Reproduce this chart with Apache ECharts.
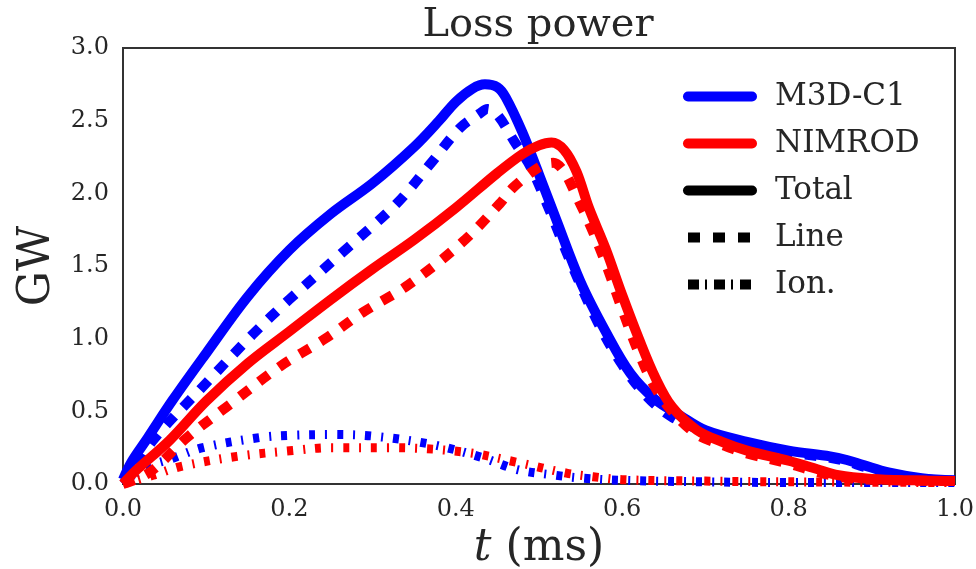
<!DOCTYPE html>
<html>
<head>
<meta charset="utf-8">
<script src="https://cdn.jsdelivr.net/npm/echarts@6/dist/echarts.min.js"></script>
<style>html,body{margin:0;padding:0;background:#fff}#c{width:976px;height:569px}</style>
</head>
<body>
<div id="c"></div>
<script>
// ---- data (t in ms, power in GW) ----
const m3dTotalT = [0, 0.01, 0.03, 0.06, 0.1, 0.15, 0.2, 0.25, 0.3, 0.35, 0.38, 0.4, 0.42, 0.435, 0.45, 0.46, 0.48, 0.5, 0.52, 0.55, 0.58, 0.61, 0.64, 0.67, 0.7, 0.75, 0.8, 0.85, 0.87, 0.89, 0.92, 0.96, 1.0];
const m3dTotalV = [0.03, 0.15, 0.32, 0.58, 0.9, 1.29, 1.61, 1.86, 2.07, 2.32, 2.5, 2.63, 2.72, 2.75, 2.73, 2.66, 2.42, 2.13, 1.83, 1.39, 1.05, 0.76, 0.58, 0.47, 0.37, 0.29, 0.23, 0.19, 0.165, 0.13, 0.08, 0.04, 0.025];

const m3dLineT = [0, 0.01, 0.036, 0.096, 0.156, 0.2, 0.265, 0.329, 0.369, 0.405, 0.429, 0.438, 0.45, 0.47, 0.49, 0.51, 0.54, 0.57, 0.6, 0.63, 0.66, 0.7, 0.75, 0.8, 0.85, 0.87, 0.89, 0.92, 0.96, 1.0];
const m3dLineV = [0.0, 0.06, 0.3, 0.67, 1.03, 1.27, 1.6, 1.93, 2.2, 2.45, 2.55, 2.58, 2.54, 2.36, 2.18, 1.92, 1.5, 1.12, 0.82, 0.6, 0.46, 0.36, 0.28, 0.22, 0.18, 0.155, 0.12, 0.075, 0.035, 0.02];

const m3dIonT = [0, 0.01, 0.029, 0.056, 0.096, 0.165, 0.2, 0.25, 0.3, 0.373, 0.433, 0.473, 0.52, 0.553, 0.6, 0.7, 0.8, 1.0];
const m3dIonV = [0.0, 0.05, 0.12, 0.17, 0.25, 0.32, 0.335, 0.34, 0.33, 0.27, 0.18, 0.1, 0.06, 0.04, 0.025, 0.015, 0.01, 0.01];

const nimTotalT = [0, 0.017, 0.056, 0.1, 0.15, 0.2, 0.25, 0.3, 0.35, 0.4, 0.45, 0.48, 0.5, 0.515, 0.53, 0.545, 0.56, 0.58, 0.6, 0.62, 0.64, 0.66, 0.69, 0.72, 0.75, 0.8, 0.83, 0.86, 0.9, 0.95, 1.0];
const nimTotalV = [0.0, 0.1, 0.3, 0.57, 0.83, 1.05, 1.27, 1.48, 1.68, 1.9, 2.14, 2.27, 2.33, 2.35, 2.3, 2.15, 1.9, 1.62, 1.3, 1.0, 0.73, 0.53, 0.37, 0.29, 0.23, 0.16, 0.11, 0.06, 0.035, 0.025, 0.02];

const nimLineT = [0, 0.032, 0.077, 0.129, 0.189, 0.243, 0.288, 0.343, 0.409, 0.453, 0.469, 0.5, 0.517, 0.53, 0.545, 0.56, 0.58, 0.6, 0.62, 0.64, 0.66, 0.69, 0.72, 0.75, 0.8, 0.83, 0.86, 0.9, 1.0];
const nimLineV = [0.0, 0.08, 0.32, 0.55, 0.81, 1.0, 1.18, 1.37, 1.67, 1.93, 2.04, 2.18, 2.21, 2.15, 1.98, 1.8, 1.52, 1.2, 0.9, 0.66, 0.5, 0.34, 0.27, 0.21, 0.14, 0.09, 0.05, 0.03, 0.02];

const nimIonT = [0, 0.036, 0.069, 0.137, 0.204, 0.25, 0.32, 0.41, 0.473, 0.533, 0.565, 0.6, 0.7, 0.8, 1.0];
const nimIonV = [0.0, 0.06, 0.12, 0.19, 0.23, 0.25, 0.25, 0.22, 0.15, 0.075, 0.05, 0.03, 0.02, 0.015, 0.01];

const xTicks = [0, 0.2, 0.4, 0.6, 0.8, 1.0];
const yTicks = [0, 0.5, 1.0, 1.5, 2.0, 2.5, 3.0];
const legendNames = ['M3D-C1', 'NIMROD', 'Total', 'Line', 'Ion.'];

const BLUE = '#0000ff', RED = '#ff0000', INK = '#262626';
const FONT = 'DejaVu Serif';
const DASH_LINE = [12, 12.5];
const DASH_ION = [6, 10, 2, 10];
const LEG_DASH_LINE = [12, 13];
const LEG_DASH_ION = [11, 6, 2, 7];

function pairs(t, v) { return t.map((x, i) => [x, v[i]]); }
function curve(name, t, v, color, type, w, z) {
  return {
    name: name, type: 'line', data: pairs(t, v), smooth: 0.35, showSymbol: false, symbol: 'none',
    silent: true, z: z,
    lineStyle: { color: color, width: w, type: type, cap: 'butt', join: 'round' },
    itemStyle: { color: color }
  };
}
function dummy(name, type) {
  return { name: name, type: 'line', data: [], symbol: 'none',
    lineStyle: { color: '#000', width: 10, type: type, cap: 'butt' }, itemStyle: { color: '#000' } };
}
const legendStyles = {
  'M3D-C1': { color: BLUE, type: 'solid', cap: 'round' },
  'NIMROD': { color: RED, type: 'solid', cap: 'round' },
  'Total': { color: '#000', type: 'solid', cap: 'round' },
  'Line': { color: '#000', type: LEG_DASH_LINE, cap: 'butt' },
  'Ion.': { color: '#000', type: LEG_DASH_ION, cap: 'butt' }
};

const chart = echarts.init(document.getElementById('c'), null, { renderer: 'canvas' });
chart.setOption({
  animation: false,
  backgroundColor: '#fff',
  textStyle: { fontFamily: FONT },
  title: {
    text: 'Loss power', left: 533, top: 1, textAlign: 'center',
    textStyle: { fontFamily: FONT, fontSize: 40, fontWeight: 'normal', color: INK }
  },
  legend: {
    data: legendNames.map(n => ({
      name: n,
      lineStyle: { color: legendStyles[n].color, width: 10, type: legendStyles[n].type, cap: legendStyles[n].cap },
      itemStyle: { opacity: 0, color: 'rgba(0,0,0,0)', borderWidth: 0 }
    })),
    orient: 'vertical', left: 678, top: 76,
    itemWidth: 64, itemHeight: 10, itemGap: 16,
    textStyle: { fontFamily: FONT, fontSize: 31, color: INK, lineHeight: 29, padding: [0, 0, 0, 18] },
    selectedMode: false
  },
  grid: { left: 123, right: 21, top: 48, bottom: 85, outerBoundsMode: 'none', containLabel: false,
    show: true, borderColor: '#333', borderWidth: 2, backgroundColor: '#fff' },
  xAxis: {
    type: 'value', min: xTicks[0], max: xTicks[xTicks.length - 1], interval: 0.2,
    name: '{i|t} (ms)', nameLocation: 'middle', nameGap: 40,
    nameTextStyle: { fontFamily: FONT, fontSize: 44, color: INK, rich: { i: { fontFamily: FONT, fontSize: 44, fontStyle: 'italic', color: INK } } },
    axisLine: { show: false }, axisTick: { show: false }, splitLine: { show: false },
    axisLabel: { fontFamily: FONT, fontSize: 24, color: INK, margin: 14, formatter: v => v.toFixed(1) }
  },
  yAxis: {
    type: 'value', min: yTicks[0], max: yTicks[yTicks.length - 1], interval: 0.5,
    name: 'GW', nameLocation: 'middle', nameGap: 59, nameRotate: 90,
    nameTextStyle: { fontFamily: FONT, fontSize: 44, color: INK },
    axisLine: { show: false }, axisTick: { show: false }, splitLine: { show: false },
    axisLabel: { fontFamily: FONT, fontSize: 24, color: INK, margin: 14, formatter: v => v.toFixed(1) }
  },
  series: [
    curve('M3D-C1', m3dTotalT, m3dTotalV, BLUE, 'solid', 10, 3),
    curve('m3d-line', m3dLineT, m3dLineV, BLUE, DASH_LINE, 10, 3),
    curve('m3d-ion', m3dIonT, m3dIonV, BLUE, DASH_ION, 9, 3),
    curve('NIMROD', nimTotalT, nimTotalV, RED, 'solid', 10, 4),
    curve('nim-line', nimLineT, nimLineV, RED, DASH_LINE, 10, 4),
    curve('nim-ion', nimIonT, nimIonV, RED, DASH_ION, 9, 4),
    dummy('Total', 'solid'),
    dummy('Line', DASH_LINE),
    dummy('Ion.', DASH_ION)
  ]
});
</script>
</body>
</html>
